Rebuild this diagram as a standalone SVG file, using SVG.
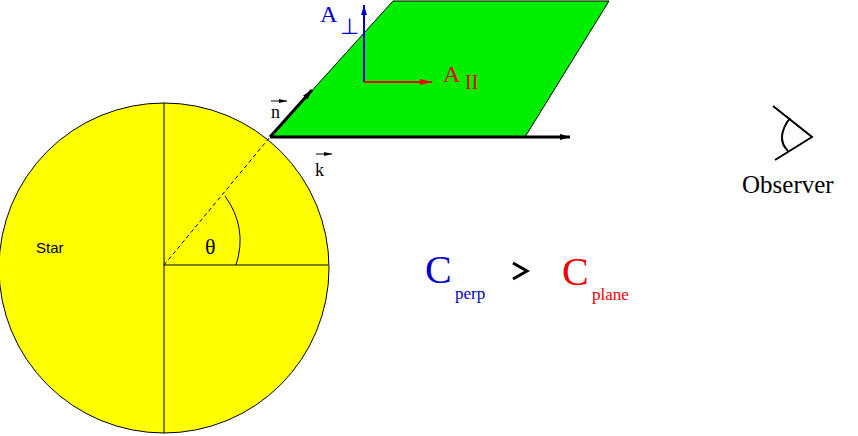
<svg xmlns="http://www.w3.org/2000/svg" width="858" height="436" viewBox="0 0 858 436">
<style>
text{font-family:"Liberation Serif",serif}
.k{stroke:#000;fill:none}
</style>
<defs>
<marker id="ak" markerWidth="10" markerHeight="6" refX="10" refY="3" orient="auto" markerUnits="userSpaceOnUse"><path d="M0,0L10,3L0,6z" fill="#000"/></marker>
<marker id="ab" markerWidth="10" markerHeight="6" refX="10" refY="3" orient="auto" markerUnits="userSpaceOnUse"><path d="M0,0L10,3L0,6z" fill="#0000cc"/></marker>
<marker id="ar" markerWidth="12" markerHeight="6" refX="12" refY="3" orient="auto" markerUnits="userSpaceOnUse"><path d="M0,0L12,3L0,6z" fill="#e00"/></marker>
<marker id="as" markerWidth="8" markerHeight="4" refX="8" refY="2" orient="auto" markerUnits="userSpaceOnUse"><path d="M0,0L8,2L0,4z" fill="#000"/></marker>
</defs>
<g id="star">
<circle cx="164" cy="268" r="165" fill="#ffff00" stroke="#000" stroke-width="1"/>
<line class="k" x1="164" y1="103" x2="164" y2="433"/>
<line class="k" x1="164" y1="265" x2="328" y2="265"/>
<line class="k" x1="164" y1="265" x2="270" y2="137" stroke-dasharray="4,3"/>
<path class="k" d="M225,196 Q248,228 236,265"/>
<text x="205" y="254" font-size="22">θ</text>
<text x="36" y="253" font-size="15" font-family="Liberation Sans,sans-serif" style="font-family:'Liberation Sans',sans-serif">Star</text>
</g>
<g id="plane">
<path d="M270,137 L393,1 L609,1 L525,137 Z" fill="#00ee00" stroke="#000" stroke-width="1"/>
</g>
<g id="connectors">
<line class="k" x1="270" y1="137" x2="312" y2="90" stroke-width="3" marker-end="url(#ak)"/>
<line class="k" x1="270" y1="137" x2="570" y2="137" stroke-width="3" marker-end="url(#ak)"/>
<line x1="364" y1="82" x2="364" y2="5" stroke="#0000cc" stroke-width="2" marker-end="url(#ab)"/>
<line x1="364" y1="82" x2="432" y2="82" stroke="#e00" stroke-width="2" marker-end="url(#ar)"/>
<line class="k" x1="271" y1="101" x2="287" y2="101" marker-end="url(#as)"/>
<line class="k" x1="316" y1="154" x2="332" y2="154" marker-end="url(#as)"/>
</g>
<g id="labels">
<text x="271" y="118" font-size="18">n</text>
<text x="315" y="176" font-size="18">k</text>
<text x="320" y="22" font-size="24" fill="#0000cc">A</text>
<text x="340" y="34" font-size="22" fill="#0000cc">⊥</text>
<text x="443" y="82" font-size="24" fill="#e00">A</text>
<text x="465" y="89" font-size="20" fill="#e00">II</text>
<text x="425" y="283" font-size="40" fill="#0000cc">C</text>
<text x="455" y="299" font-size="17" fill="#0000cc">perp</text>
<path d="M513,263 L527,271 L513,279" stroke="#000" stroke-width="3" fill="none"/>
<text x="562" y="285" font-size="40" fill="#e00">C</text>
<text x="592" y="300" font-size="17" fill="#e00">plane</text>
</g>
<g id="observer">
<path class="k" d="M773,106 L812,137 L775,160" stroke-width="2"/>
<path class="k" d="M790,118 Q775,138 788,151" stroke-width="2"/>
<text x="742" y="193" font-size="25">Observer</text>
</g>
</svg>
